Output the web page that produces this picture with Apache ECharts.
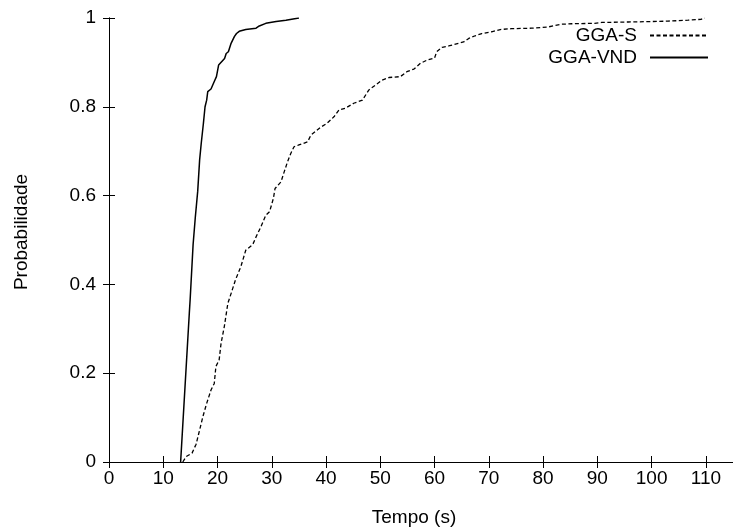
<!DOCTYPE html>
<html>
<head>
<meta charset="utf-8">
<title>GGA-S vs GGA-VND</title>
<script src="https://cdn.jsdelivr.net/npm/echarts@6/dist/echarts.min.js"></script>
<style>
  html, body { margin: 0; padding: 0; background: #fff; }
  #chart { width: 733px; height: 531px; }
</style>
</head>
<body>
<div id="chart"></div>
<script>
// Empirical run-time distributions (time in seconds vs. cumulative probability)
const ggaSTime = [13.6, 14.2, 15.3, 16.05, 16.7, 17.3, 18.0, 18.8, 19.4, 19.7,
  20.3, 20.65, 21.25, 21.9, 22.7, 23.3, 24.3, 25.2, 26.5, 27.1,
  28.0, 28.9, 29.6, 30.3, 30.6, 31.7, 32.3, 32.9, 33.5, 34.1,
  35.0, 36.6, 37.2, 39.0, 40.2, 41.5, 42.4, 43.6, 45.1, 46.7,
  47.9, 49.1, 50.3, 51.6, 53.7, 54.9, 56.2, 57.4, 58.6, 60.0,
  60.4, 61.4, 62.6, 64.4, 65.35, 66.3, 67.5, 68.7, 70.5, 72.1,
  74.2, 77.9, 81.0, 83.4, 85.3, 89.5, 90.8, 95.7, 100, 103,
  106.7, 109.1, 109.8];
const ggaSProb = [0, 0.012, 0.02, 0.04, 0.072, 0.102, 0.132, 0.162, 0.177, 0.215,
  0.23, 0.267, 0.305, 0.357, 0.387, 0.41, 0.44, 0.477, 0.49, 0.507,
  0.53, 0.556, 0.564, 0.594, 0.616, 0.631, 0.654, 0.676, 0.695, 0.71,
  0.714, 0.721, 0.736, 0.754, 0.763, 0.778, 0.793, 0.797, 0.808, 0.815,
  0.838, 0.849, 0.86, 0.866, 0.868, 0.879, 0.885, 0.898, 0.905, 0.91,
  0.924, 0.934, 0.937, 0.943, 0.946, 0.954, 0.96, 0.965, 0.969, 0.974,
  0.976, 0.977, 0.98, 0.986, 0.987, 0.988, 0.99, 0.991, 0.992, 0.993,
  0.995, 0.997, 1.0];

const ggaVndTime = [13.2, 14.8, 14.95, 15.5, 15.9, 16.35, 16.7, 17.0, 17.4, 17.7,
  18.0, 18.2, 18.8, 19.4, 19.8, 20.2, 20.5, 21.3, 21.6, 22.0,
  22.5, 23.1, 23.5, 24.0, 25.2, 27.1, 27.7, 28.9, 30.8, 32.6,
  35.0];
const ggaVndProb = [0, 0.335, 0.365, 0.49, 0.55, 0.61, 0.68, 0.718, 0.763, 0.80,
  0.815, 0.834, 0.84, 0.857, 0.868, 0.894, 0.898, 0.909, 0.92, 0.924,
  0.943, 0.958, 0.965, 0.970, 0.974, 0.977, 0.982, 0.988, 0.992, 0.995,
  1.0];

const seriesNames = ['GGA-S', 'GGA-VND'];
const xTitle = 'Tempo (s)';
const yTitle = 'Probabilidade';

const pairs = (xs, ys) => xs.map((x, i) => [x, ys[i]]);

const FONT = '"Liberation Sans", Arial, Helvetica, sans-serif';
const FS = 19;

const chart = echarts.init(document.getElementById('chart'), null, { renderer: 'canvas' });

const axisLine = { show: true, lineStyle: { color: '#000', width: 1 } };
const tick = { show: true, inside: true, length: 6, lineStyle: { color: '#000', width: 1 } };

// Legend entries: line sample only, no marker
const legendEntry = (name, top) => ({
  data: [name], right: 24, top: top, align: 'right', orient: 'vertical',
  itemWidth: 58, itemHeight: 20, padding: 0,
  itemStyle: { opacity: 0, borderWidth: 0 },
  textStyle: { fontSize: FS, color: '#000', fontFamily: FONT, padding: [0, 8, 0, 0] }
});

const titleText = (text, x, y, rotation) => ({
  type: 'text', x: x, y: y, rotation: rotation,
  style: { text: text, fontSize: FS, fontFamily: FONT, fill: '#000', align: 'center', verticalAlign: 'middle' }
});

chart.setOption({
  animation: false,
  backgroundColor: '#fff',
  textStyle: { fontFamily: FONT, color: '#000' },
  grid: { left: 109, right: -2, top: 18, bottom: 69, containLabel: false },
  xAxis: [
    {
      type: 'value', min: 0, max: 115, interval: 10,
      position: 'bottom',
      axisLine, axisTick: tick,
      axisLabel: { fontSize: FS, color: '#000', fontFamily: FONT, margin: 7, showMaxLabel: false },
      splitLine: { show: false }
    },
    {
      type: 'value', min: 0, max: 115, interval: 10,
      position: 'top',
      axisLine, axisTick: tick,
      axisLabel: { show: false },
      splitLine: { show: false }
    }
  ],
  yAxis: [
    {
      type: 'value', min: 0, max: 1, interval: 0.2,
      position: 'left',
      axisLine, axisTick: tick,
      axisLabel: { fontSize: FS, color: '#000', fontFamily: FONT, margin: 13 },
      splitLine: { show: false }
    },
    {
      type: 'value', min: 0, max: 1, interval: 0.2,
      position: 'right',
      axisLine, axisTick: tick,
      axisLabel: { show: false },
      splitLine: { show: false }
    }
  ],
  legend: [legendEntry(seriesNames[0], 26), legendEntry(seriesNames[1], 48)],
  graphic: [
    titleText(yTitle, 22, 232, Math.PI / 2),
    titleText(xTitle, 414, 518, 0)
  ],
  series: [
    {
      name: seriesNames[0], type: 'line', symbol: 'none', smooth: false,
      data: pairs(ggaSTime, ggaSProb),
      lineStyle: { color: '#000', width: 1.3, type: [4, 2.5] },
      itemStyle: { color: '#000' }
    },
    {
      name: seriesNames[1], type: 'line', symbol: 'none', smooth: false,
      data: pairs(ggaVndTime, ggaVndProb),
      lineStyle: { color: '#000', width: 1.5, type: 'solid' },
      itemStyle: { color: '#000' }
    }
  ]
});
</script>
</body>
</html>
